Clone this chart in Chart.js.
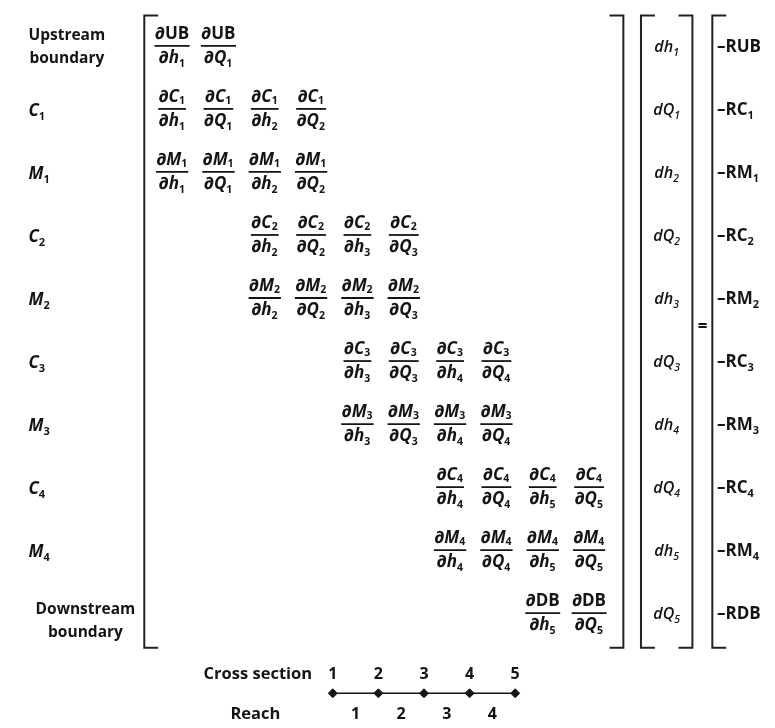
<!DOCTYPE html>
<html><head><meta charset="utf-8">
<script src="https://cdn.jsdelivr.net/npm/chart.js@4"></script>
<style>html,body{margin:0;padding:0;background:#fff}canvas{display:block}</style>
</head><body><canvas id="c" width="775" height="728"></canvas>
<script>
// ---- data ----
const rowLabels = ['Upstream|boundary','C_1','M_1','C_2','M_2','C_3','M_3','C_4','M_4','Downstream|boundary'];
const rowFunctions = ['UB','C_1','M_1','C_2','M_2','C_3','M_3','C_4','M_4','DB'];
const unknowns = ['h_1','Q_1','h_2','Q_2','h_3','Q_3','h_4','Q_4','h_5','Q_5'];
const firstColumn = [0,0,0,2,2,4,4,6,6,8];
const lastColumn  = [1,3,3,5,5,7,7,9,9,9];
const residuals = ['RUB','RC_1','RM_1','RC_2','RM_2','RC_3','RM_3','RC_4','RM_4','RDB'];
const crossSections = ['1','2','3','4','5'];
const reaches = ['1','2','3','4'];
const axisCaptions = ['Cross section','Reach'];

// ---- layout (in scale units) ----
const LAY = {
  xMin:-3.5957, xMax:12.894, yMin:-0.6406, yMax:10.734,
  csMin:-6.178, csMax:10.578,
  labelX:-3.10, downX:-1.87,
  matL:-0.60, matR:9.74, vecL:10.12, vecR:11.23, rhsL:11.66,
  vecX:10.68, rhsX:11.76, eqX:11.45, eqY:4.45,
  top:-0.48, bottom:9.55, serif:0.30,
  csNumY:9.95, csLineY:10.27, reachY:10.58,
  csCapX:-0.643, reachCapX:-0.697
};

const INK = '#141414';
const F = {
  r:'bold 17px "Open Sans"', i:'italic bold 17px "Open Sans"', s:'bold 10.5px "Open Sans"',
  lab:'bold 15.5px "Open Sans"', labI:'italic bold 17px "Open Sans"', labS:'bold 11px "Open Sans"',
  vi:'italic 600 16px "Open Sans"', vs:'italic 600 10.5px "Open Sans"',
  rr:'bold 17px "Open Sans"', rs:'bold 11px "Open Sans"'
};

function parse(sym, kind){
  const m = sym.match(/^(.*?)_(\w+)$/);
  if (m) return [{t:m[1],k:kind},{t:m[2],k:'s'}];
  return [{t:sym,k:kind}];
}
function measure(ctx, toks, fonts){
  let w=0; for (const tk of toks){ ctx.font=fonts[tk.k]; w+=ctx.measureText(tk.t).width + (tk.k==='s'?0.5:0); } return w;
}
function drawToks(ctx, toks, x, y, align, fonts, subDrop){
  const drop = subDrop===undefined ? 4 : subDrop;
  const w = measure(ctx,toks,fonts);
  let cx = align==='center' ? x-w/2 : (align==='right' ? x-w : x);
  ctx.textAlign='left'; ctx.textBaseline='alphabetic'; ctx.fillStyle=INK;
  for (const tk of toks){
    ctx.font=fonts[tk.k];
    const dy = tk.k==='s' ? drop : 0;
    ctx.fillText(tk.t, cx, y+dy);
    cx += ctx.measureText(tk.t).width + (tk.k==='s'?0.5:0);
  }
  return w;
}

// ---- datasets ----
const entryPts = [];
rowFunctions.forEach((f,r)=>{
  for (let c=firstColumn[r]; c<=lastColumn[r]; c++) entryPts.push({x:c, y:r, f:f, v:unknowns[c]});
});
const unknownPts = unknowns.map((u,r)=>({x:LAY.vecX, y:r, v:u}));
const residualPts = residuals.map((s,r)=>({x:LAY.rhsX, y:r, v:s}));
const labelPts = rowLabels.map((s,r)=>({x:s.startsWith('Down')?LAY.downX:LAY.labelX, y:r, v:s}));
const csPts = crossSections.map((s,i)=>({x:i+1, y:LAY.csLineY, v:s}));
const reachPts = reaches.map((s,i)=>({x:i+1.5, y:LAY.reachY, v:s}));

const mathPlugin = {
  id:'math',
  afterDatasetsDraw(chart){
    const ctx=chart.ctx, X=chart.scales.x, Y=chart.scales.y, XC=chart.scales.xcs;
    ctx.save();
    const fr = {r:F.r, i:F.i, s:F.s};
    // matrix entries
    chart.getDatasetMeta(0).data.forEach((el,i)=>{
      const p = entryPts[i];
      const isRoman = !/_/.test(p.f);
      const num = [{t:'∂',k:'r'}, ...parse(p.f, isRoman?'r':'i')];
      const den = [{t:'∂',k:'r'}, ...parse(p.v,'i')];
      const wn = measure(ctx,num,fr), wd = measure(ctx,den,fr);
      const w = Math.max(wn,wd)+1;
      drawToks(ctx,num,el.x,el.y-7,'center',fr,2);
      drawToks(ctx,den,el.x,el.y+17,'center',fr,4);
      ctx.strokeStyle=INK; ctx.lineWidth=1.8;
      ctx.beginPath(); ctx.moveTo(el.x-w/2, el.y); ctx.lineTo(el.x+w/2, el.y); ctx.stroke();
    });
    // unknowns
    const fv = {i:F.vi, s:F.vs};
    chart.getDatasetMeta(1).data.forEach((el,i)=>{
      drawToks(ctx,[{t:'d',k:'i'},...parse(unknownPts[i].v,'i')],el.x,el.y+6,'center',fv);
    });
    // residuals
    const fres = {r:F.rr, s:F.rs};
    chart.getDatasetMeta(2).data.forEach((el,i)=>{
      drawToks(ctx,[{t:'–',k:'r'},...parse(residualPts[i].v,'r')],el.x,el.y+6,'left',fres);
    });
    // row labels
    const flab = {r:F.lab, i:F.labI, s:F.labS};
    chart.getDatasetMeta(3).data.forEach((el,i)=>{
      const s = labelPts[i].v;
      if (s.includes('|')){
        const [a,b] = s.split('|');
        if (s.startsWith('Down')){
          drawToks(ctx,[{t:a,k:'r'}],el.x,el.y+1,'center',flab);
          drawToks(ctx,[{t:b,k:'r'}],el.x,el.y+24,'center',flab);
        } else {
          drawToks(ctx,[{t:a,k:'r'}],el.x,el.y-6,'left',flab);
          drawToks(ctx,[{t:b,k:'r'}],el.x+1,el.y+17,'left',flab);
        }
      } else {
        drawToks(ctx,parse(s,'i'),el.x,el.y+7,'left',flab);
      }
    });
    // cross-section numbers & reach numbers
    const fn = {r:'bold 16px "Open Sans"'};
    chart.getDatasetMeta(4).data.forEach((el,i)=>{
      drawToks(ctx,[{t:csPts[i].v,k:'r'}],el.x,Y.getPixelForValue(LAY.csNumY)+6,'center',fn);
    });
    chart.getDatasetMeta(5).data.forEach((el,i)=>{
      drawToks(ctx,[{t:reachPts[i].v,k:'r'}],el.x,el.y+6,'center',fn);
    });
    const fc = {r:'bold 16.5px "Open Sans"'};
    drawToks(ctx,[{t:axisCaptions[0],k:'r'}],XC.getPixelForValue(LAY.csCapX),Y.getPixelForValue(LAY.csNumY)+6,'center',fc);
    drawToks(ctx,[{t:axisCaptions[1],k:'r'}],XC.getPixelForValue(LAY.reachCapX),Y.getPixelForValue(LAY.reachY)+6,'center',fc);
    // brackets
    const yT=Y.getPixelForValue(LAY.top), yB=Y.getPixelForValue(LAY.bottom);
    const sL = X.getPixelForValue(LAY.serif)-X.getPixelForValue(0);
    ctx.strokeStyle='#222'; ctx.lineWidth=2;
    function br(xv, dir){
      const x=X.getPixelForValue(xv);
      ctx.beginPath(); ctx.moveTo(x+dir*sL,yT); ctx.lineTo(x,yT); ctx.lineTo(x,yB); ctx.lineTo(x+dir*sL,yB); ctx.stroke();
    }
    br(LAY.matL,1); br(LAY.matR,-1); br(LAY.vecL,1); br(LAY.vecR,-1); br(LAY.rhsL,1);
    // equals sign
    drawToks(ctx,[{t:'=',k:'r'}],X.getPixelForValue(LAY.eqX),Y.getPixelForValue(LAY.eqY)+6,'center',{r:'bold 17px "Open Sans"'});
    ctx.restore();
  }
};

new Chart(document.getElementById('c'), {
  type:'scatter',
  data:{ datasets:[
    {data:entryPts, pointRadius:0, pointHoverRadius:0},
    {data:unknownPts, pointRadius:0},
    {data:residualPts, pointRadius:0},
    {data:labelPts, pointRadius:0},
    {data:csPts, xAxisID:'xcs', showLine:true, borderColor:INK, backgroundColor:INK, borderWidth:1.3,
     pointStyle:'rectRot', pointRadius:4.5, pointBorderWidth:1},
    {data:reachPts, xAxisID:'xcs', pointRadius:0}
  ]},
  options:{
    responsive:false, animation:false, devicePixelRatio:1,
    layout:{padding:0},
    events:[],
    plugins:{legend:{display:false}, tooltip:{enabled:false}},
    scales:{
      x:{type:'linear', display:false, min:LAY.xMin, max:LAY.xMax},
      xcs:{type:'linear', display:false, min:LAY.csMin, max:LAY.csMax},
      y:{type:'linear', display:false, reverse:true, min:LAY.yMin, max:LAY.yMax}
    }
  },
  plugins:[mathPlugin]
});
</script>
</body></html>
